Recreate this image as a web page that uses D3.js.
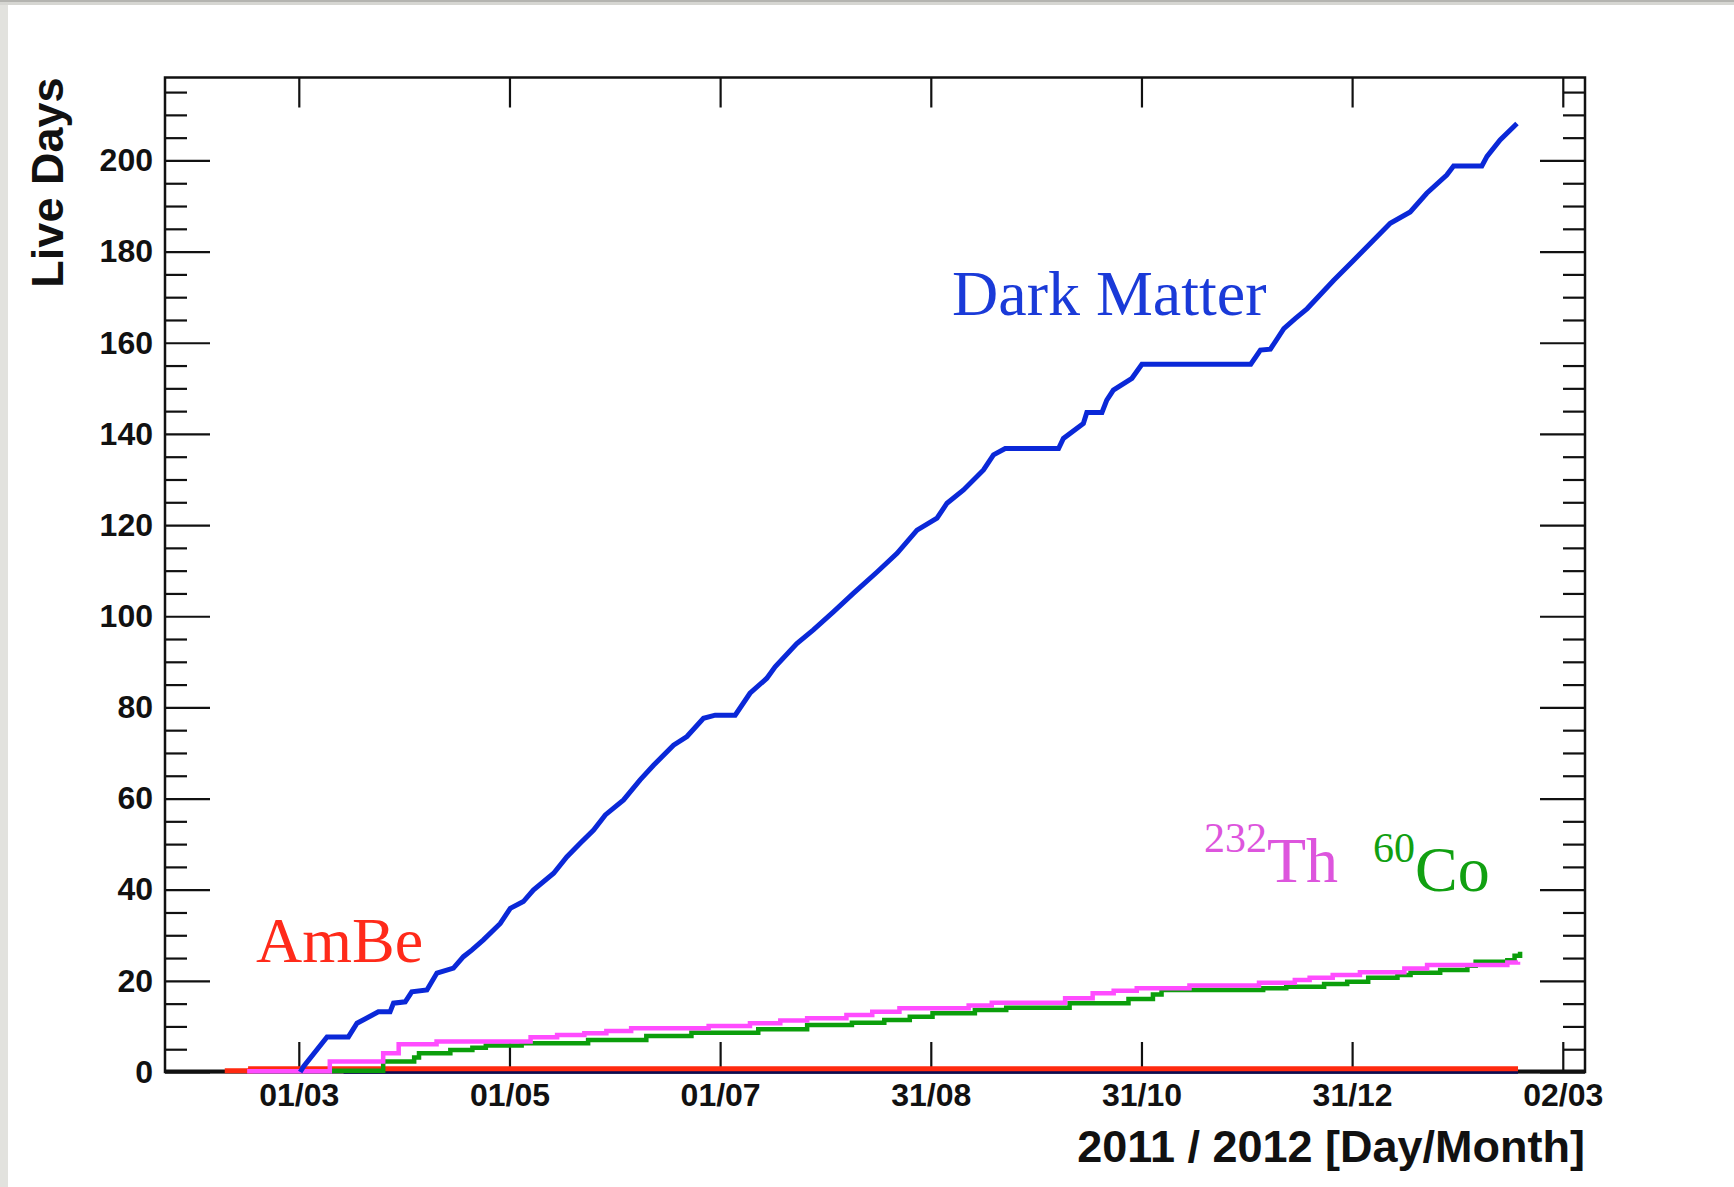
<!DOCTYPE html>
<html>
<head>
<meta charset="utf-8">
<script src="https://cdnjs.cloudflare.com/ajax/libs/d3/7.8.5/d3.min.js"></script>
<style>
  body { margin: 0; background: #fff; }
  .tick text { font-family: "Liberation Sans", Arial, sans-serif; font-weight: bold; font-size: 32px; fill: #111; }
  .tick line { stroke: #111; stroke-width: 2.2px; }
</style>
</head>
<body>
<svg id="chart"></svg>
<script>
// days counted from 01/03/2011, values in live days
var darkMatter = [[0.4,0],[1.4,1.2],[8.2,7.7],[14.4,7.7],[16.9,10.7],[23.1,13.2],[26.5,13.2],[27.5,15.1],
  [30.9,15.4],[32.8,17.6],[37.2,18.0],[40.1,21.7],[44.9,22.8],[47.8,25.3],[50.3,26.8],[53.6,29.0],
  [58.5,32.6],[61.4,35.9],[65.2,37.4],[68.1,39.9],[74,43.6],[77.8,47.2],[81.7,50.2],[85.6,53.1],
  [89,56.4],[94.3,59.7],[99.1,64.1],[103,67.3],[108.8,71.7],[112.7,73.6],[117.5,77.6],[120.9,78.3],
  [126.7,78.3],[131,83.1],[135.9,86.4],[138.3,88.9],[144.6,94],[149.4,97],[155.3,101],[161,105],
  [167.9,109.7],[173.7,113.8],[179.5,118.9],[185.3,121.5],[188.2,124.8],[193,127.7],[198.8,132.1],
  [201.7,135.4],[205.1,136.8],[220.6,136.8],[222,139],[227.8,142.3],[228.8,144.7],[233.2,144.7],
  [234.6,147.4],[236.5,149.6],[241.9,152.2],[244.8,155.3],[276.4,155.3],[279.2,158.4],[282.1,158.6],
  [286,163.1],[289.3,165.3],[292.8,167.5],[300.5,173.7],[306.3,178.1],[311.1,181.8],[316.9,186.2],
  [322.7,188.7],[327.5,192.8],[333.3,196.8],[335.3,198.8],[343.5,198.8],[345,200.9],[348.8,204.5],
  [353.7,208.1]];

var thorium = [[-15,0.15],[9,2.3],[24.5,4.1],[29,6.1],[40,6.7],[67.3,7.6],[75,8.1],[82.9,8.5],[89.3,9.0],
  [96.5,9.6],[119,10.1],[131,10.7],[139.8,11.3],[147.6,11.8],[159,12.5],[166.5,13.2],[174.4,14.0],
  [194.5,14.6],[201.2,15.2],[222.5,16.2],[230.5,17.3],[236.6,17.8],[243.3,18.4],[258.6,19.0],
  [278.8,19.6],[289.2,20.2],[293.5,20.7],[300.2,21.3],[308.1,21.9],[321,22.7],[327.6,23.5],
  [350.9,24.0],[354,24.2]];

var cobalt = [[9,0.3],[24.5,2.3],[33.5,3.2],[34.9,4.1],[44,4.8],[50.4,5.3],[54.3,5.8],[64.7,6.3],[84,7.0],
  [100.9,7.9],[114,8.6],[133.4,9.4],[147.6,10.3],[160.6,10.8],[170,11.4],[177.4,12.1],[184,12.9],
  [196.3,13.6],[205.4,14.1],[223.8,15.1],[240.9,16.0],[248,17.0],[250.5,18.0],[280,18.4],[286.7,18.7],
  [297.7,19.3],[304.4,19.8],[310.5,20.7],[319,21.3],[322.8,21.8],[331.4,22.4],[339.3,23.3],
  [341.7,24.2],[350.9,24.5],[353,25.5],[354.6,26.4]];

var ambe = [[-21.5,0.3],[-14,0.7],[354,0.7]];
var otherRuns = [[13,0],[354,0]];

var xTickDays = [0, 61.17, 122.33, 183.5, 244.67, 305.83, 367];
var xTickLabels = ["01/03", "01/05", "01/07", "31/08", "31/10", "31/12", "02/03"];
var yMajor = [0, 20, 40, 60, 80, 100, 120, 140, 160, 180, 200];
var yMinor = d3.range(5, 220, 5).filter(function (v) { return v % 20 !== 0; });

var width = 1734, height = 1187,
frameLeft = 165, frameRight = 1585, frameTop = 77.5, frameBottom = 1072,
t0 = Date.UTC(2011, 2, 1);

function day(d) { return new Date(t0 + d * 864e5); }

var svg = d3.select("#chart")
.attr("width", width)
.attr("height", height)
.style("display", "block");

svg.append("rect").attr("width", width).attr("height", height).style("fill", "#fff");
// screenshot border
svg.append("rect").attr("x", 0).attr("y", 0).attr("width", 8).attr("height", height).style("fill", "#e2e2de");
svg.append("rect").attr("x", 0).attr("y", 0).attr("width", width).attr("height", 5).style("fill", "#d6d6d2");
svg.append("rect").attr("x", 0).attr("y", 0).attr("width", width).attr("height", 2).style("fill", "#b4b4b0");

var x = d3.scaleUtc()
.domain([day(-38.85), day(373.45)])
.range([frameLeft, frameRight]);

var y = d3.scaleLinear()
.domain([0, 218.2])
.range([frameBottom, frameTop]);

// axes, ticks pointing inward
var xTicks = xTickDays.map(day);
svg.append("g")
.attr("transform", "translate(0," + frameBottom + ")")
.call(d3.axisBottom(x).tickValues(xTicks).tickSize(-30).tickPadding(11)
  .tickFormat(function (d, i) { return xTickLabels[i]; }));
svg.append("g")
.attr("transform", "translate(0," + frameTop + ")")
.call(d3.axisTop(x).tickValues(xTicks).tickSize(-30).tickFormat(""));

svg.append("g")
.attr("transform", "translate(" + frameLeft + ",0)")
.call(d3.axisLeft(y).tickValues(yMajor).tickSize(-45).tickPadding(12).tickFormat(d3.format("d")));
svg.append("g")
.attr("transform", "translate(" + frameLeft + ",0)")
.call(d3.axisLeft(y).tickValues(yMinor).tickSize(-22).tickFormat(""));
svg.append("g")
.attr("transform", "translate(" + frameRight + ",0)")
.call(d3.axisRight(y).tickValues(yMajor).tickSize(-45).tickFormat(""));
svg.append("g")
.attr("transform", "translate(" + frameRight + ",0)")
.call(d3.axisRight(y).tickValues(yMinor).tickSize(-22).tickFormat(""));

svg.selectAll(".domain").remove();

svg.append("rect")
.attr("x", frameLeft).attr("y", frameTop)
.attr("width", frameRight - frameLeft).attr("height", frameBottom - frameTop)
.style("fill", "none").style("stroke", "#111").style("stroke-width", "2.5px");

svg.append("line")
.attr("x1", frameLeft).attr("x2", frameRight)
.attr("y1", y(0) - 0.5).attr("y2", y(0) - 0.5)
.style("stroke", "#111").style("stroke-width", "4px");

var line = d3.line()
.x(function (d) { return x(day(d[0])); })
.y(function (d) { return y(d[1]); });

var stepLine = d3.line()
.curve(d3.curveStepAfter)
.x(function (d) { return x(day(d[0])); })
.y(function (d) { return y(d[1]); });

var series = [
  {data: otherRuns, gen: stepLine, color: "#0a0a55", w: 3.5},
  {data: ambe, gen: stepLine, color: "#ff2a10", w: 5},
  {data: cobalt, gen: stepLine, color: "#0b9e0b", w: 4.5},
  {data: thorium, gen: stepLine, color: "#ff4cff", w: 4.5},
  {data: darkMatter, gen: line, color: "#0a28d8", w: 5}
];

series.forEach(function (s) {
  svg.append("path")
  .datum(s.data)
  .attr("d", s.gen)
  .style("fill", "none")
  .style("stroke", s.color)
  .style("stroke-width", s.w + "px")
  .style("stroke-linejoin", "miter");
});

// labels
var serif = "'Liberation Serif', 'Times New Roman', serif",
sans = "'Liberation Sans', Arial, sans-serif";

svg.append("text")
.attr("x", 952).attr("y", 315)
.style("font-family", serif).style("font-size", "64px").style("fill", "#1a3ad8")
.text("Dark Matter");

svg.append("text")
.attr("x", 256).attr("y", 962)
.style("font-family", serif).style("font-size", "64px").style("fill", "#ff2a1a")
.text("AmBe");

var th = svg.append("text")
.attr("x", 1204).attr("y", 852)
.style("font-family", serif).style("fill", "#dd55dd");
th.append("tspan").style("font-size", "42px").text("232");
th.append("tspan").attr("y", 881.5).style("font-size", "64px").text("Th");

var co = svg.append("text")
.attr("x", 1373).attr("y", 861.5)
.style("font-family", serif).style("fill", "#11a011");
co.append("tspan").style("font-size", "42px").text("60");
co.append("tspan").attr("y", 891).style("font-size", "64px").text("Co");

svg.append("text")
.attr("x", frameRight).attr("y", 1162)
.attr("text-anchor", "end")
.style("font-family", sans).style("font-weight", "bold").style("font-size", "45px").style("fill", "#111")
.text("2011 / 2012 [Day/Month]");

svg.append("text")
.attr("transform", "translate(63," + frameTop + ")rotate(-90)")
.attr("text-anchor", "end")
.style("font-family", sans).style("font-weight", "bold").style("font-size", "45px").style("fill", "#111")
.text("Live Days");
</script>
</body>
</html>
